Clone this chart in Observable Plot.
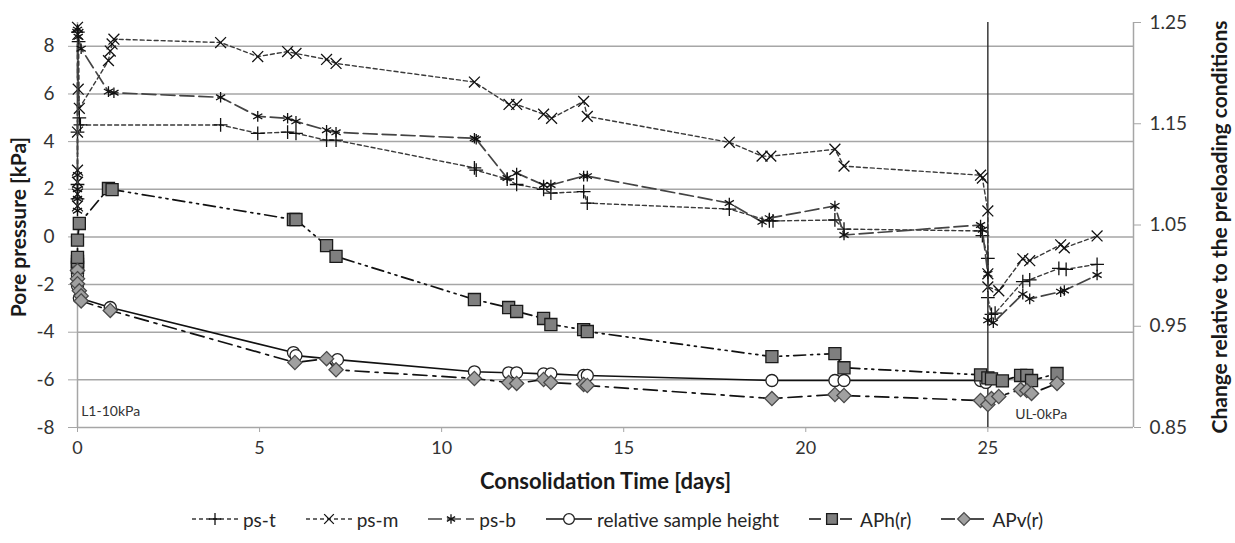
<!DOCTYPE html>
<html>
<head>
<meta charset="utf-8">
<script src="https://cdn.jsdelivr.net/npm/d3@7"></script>
<script src="https://cdn.jsdelivr.net/npm/@observablehq/plot@0.6"></script>
<style>
  html, body { margin: 0; padding: 0; background: #fff; }
  #chart { width: 1235px; height: 543px; position: relative; font-family: Lato, "Open Sans", sans-serif; color: #262626; }
  #legend { position: absolute; left: 0; top: 504px; width: 1235px; height: 30px; display: flex; justify-content: center; align-items: center; gap: 30px; font-size: 19px; padding-left: 0; }
  #legend .item { display: flex; align-items: center; gap: 5px; }
  #legend svg { display: block; }
</style>
</head>
<body>
<div id="chart"></div>
<script>
// ---------- data (time [days], value) ----------
// pore pressures [kPa] (left axis)
const psT = [[0,1.6],[0,2.2],[0,4.4],[0.01,8.6],[0.03,8.2],[0.05,5.0],[0.08,4.7],[3.93,4.7],[4.95,4.35],[5.77,4.4],[6.0,4.35],[6.84,4.06],[7.1,4.06],[10.9,2.9],[10.95,2.8],[11.8,2.43],[12.06,2.2],[12.8,2.0],[13.0,1.84],[13.9,1.9],[14.0,1.42],[17.9,1.17],[19.0,0.67],[19.1,0.67],[20.8,0.71],[21.05,0.33],[24.8,0.25],[24.85,0.05],[25.0,-0.9],[25.0,-2.55],[25.1,-3.25],[25.2,-3.2],[25.96,-1.88],[26.15,-1.8],[26.95,-1.32],[27.15,-1.36],[28.0,-1.15]];
const psM = [[0,1.3],[0,1.8],[0,2.3],[0,2.8],[0,4.4],[0,8.8],[0.01,8.5],[0.02,6.2],[0.05,5.4],[0.85,7.4],[0.9,7.8],[0.95,8.1],[1.0,8.3],[3.93,8.16],[4.95,7.57],[5.77,7.78],[6.0,7.7],[6.84,7.45],[7.1,7.28],[10.9,6.5],[11.85,5.56],[12.06,5.56],[12.8,5.15],[13.02,4.98],[13.9,5.69],[14.0,5.06],[17.9,3.97],[18.8,3.39],[19.04,3.39],[20.8,3.68],[21.05,2.97],[24.8,2.59],[24.85,2.47],[25.0,1.09],[25.0,-1.55],[25.0,-2.1],[25.3,-2.26],[25.96,-0.92],[26.15,-1.0],[27.0,-0.33],[27.1,-0.46],[28.0,0.04]];
const psB = [[0,1.1],[0,1.6],[0,2.0],[0,2.6],[0,8.7],[0.02,8.4],[0.1,7.9],[0.85,6.1],[1.0,6.05],[3.93,5.86],[4.95,5.06],[5.77,4.98],[6.0,4.85],[6.84,4.48],[7.1,4.39],[10.9,4.14],[10.95,4.1],[11.8,2.47],[12.06,2.68],[12.8,2.18],[13.0,2.18],[13.9,2.55],[14.0,2.55],[17.9,1.42],[18.8,0.63],[19.0,0.79],[20.8,1.30],[21.05,0.08],[24.8,0.5],[24.85,0.3],[25.0,-1.55],[25.0,-3.5],[25.15,-3.6],[25.96,-2.4],[26.15,-2.6],[27.0,-2.3],[27.1,-2.25],[28.0,-1.6]];
// change relative to the preloading conditions (right axis)
const relHeight = [[0,1.0],[0,0.99],[0.05,0.978],[0.9,0.9685],[5.93,0.924],[6.0,0.921],[7.14,0.917],[10.9,0.905],[11.84,0.904],[12.06,0.904],[12.8,0.903],[13.0,0.903],[13.9,0.9014],[14.0,0.9014],[19.07,0.8964],[20.8,0.8964],[21.05,0.8964],[24.8,0.8964],[24.95,0.8945]];
const aph = [[0,1.008],[0,1.011],[0,1.014],[0,1.018],[0,1.035],[0.05,1.0515],[0.85,1.086],[0.95,1.085],[5.93,1.0554],[6.0,1.0554],[6.84,1.0297],[7.1,1.019],[10.9,0.9764],[11.84,0.9685],[12.06,0.9646],[12.8,0.9577],[13.0,0.9517],[13.9,0.9467],[14.0,0.9448],[19.07,0.920],[20.8,0.923],[21.05,0.909],[24.8,0.902],[25.0,0.899],[25.1,0.898],[25.4,0.896],[25.9,0.9014],[26.07,0.9014],[26.2,0.8964],[26.9,0.9033]];
const apv = [[0,1.005],[0,0.997],[0,0.992],[0.05,0.985],[0.1,0.980],[0.1,0.975],[0.9,0.9656],[5.97,0.9142],[6.84,0.918],[7.1,0.907],[10.9,0.8984],[11.84,0.8944],[12.06,0.8935],[12.8,0.8974],[13.0,0.8944],[13.9,0.8925],[14.0,0.8915],[19.07,0.8786],[20.8,0.8826],[21.05,0.8816],[24.8,0.8767],[25.0,0.8727],[25.1,0.8786],[25.3,0.8806],[25.9,0.8875],[26.07,0.8865],[26.2,0.8836],[26.9,0.8935]];

const xTicks = [0, 5, 10, 15, 20, 25];
const yTicks = [-8, -6, -4, -2, 0, 2, 4, 6, 8];
const rightTicks = [0.85, 0.95, 1.05, 1.15, 1.25];
const annotations = [["L1-10kPa", 0.1, -7.35], ["UL-0kPa", 25.75, -7.45]];
const legendNames = ["ps-t", "ps-m", "ps-b", "relative sample height", "APh(r)", "APv(r)"];

// ---------- dual-axis mapping ----------
const leftDomain = [-8, 9];
const rightDomain = [0.85, 1.25];
const toL = d3.scaleLinear().domain(rightDomain).range(leftDomain);

const font = 'Lato, "Open Sans", sans-serif';

const series = [
  {name: legendNames[0], data: psT, right: false, dash: "4,3", sw: 1.4, stroke: "#3a3a3a", symbol: "plus", r: 4.5, fill: "none", mstroke: "#111"},
  {name: legendNames[1], data: psM, right: false, dash: "4,3", sw: 1.4, stroke: "#3a3a3a", symbol: "times", r: 5, fill: "none", mstroke: "#111"},
  {name: legendNames[2], data: psB, right: false, dash: "14,5", sw: 1.7, stroke: "#444", symbol: "asterisk", r: 5, fill: "none", mstroke: "#111"},
  {name: legendNames[3], data: relHeight, right: true, dash: null, sw: 1.6, stroke: "#111", symbol: "circle", r: 6, fill: "#fff", mstroke: "#222"},
  {name: legendNames[4], data: aph, right: true, dash: "12,5,2,5,2,5", sw: 1.7, stroke: "#111", symbol: "square", r: 6.8, fill: "#7f7f7f", mstroke: "#1a1a1a"},
  {name: legendNames[5], data: apv, right: true, dash: "14,6,3,6", sw: 1.7, stroke: "#111", symbol: "diamond2", r: 6.4, fill: "#a0a0a0", mstroke: "#4a4a4a"}
];

const marks = [
  Plot.ruleY(yTicks, {stroke: "#a6a6a6", strokeWidth: 1.5}),
  Plot.ruleX([0], {stroke: "#a6a6a6", strokeWidth: 1.5}),
  Plot.ruleX([29], {stroke: "#a6a6a6", strokeWidth: 1.5}),
  Plot.axisX({ticks: xTicks, tickSize: 5, tickPadding: 9, fontSize: 18, label: null, stroke: "#a6a6a6", fill: "#333"}),
  Plot.axisY({ticks: yTicks, tickSize: 9, tickPadding: 14, fontSize: 19, label: null, stroke: "#a6a6a6", fill: "#333", tickFormat: d => d}),
  Plot.axisY({anchor: "right", ticks: rightTicks.map(toL), tickSize: 7, tickPadding: 9, fontSize: 19, label: null, stroke: "#a6a6a6", fill: "#333", tickFormat: d => toL.invert(d).toFixed(2)}),
  Plot.ruleX([25], {stroke: "#2b2b2b", strokeWidth: 1.4})
];

for (const s of series) {
  const yAcc = s.right ? (d => toL(d[1])) : (d => d[1]);
  marks.push(Plot.line(s.data, {x: d => d[0], y: yAcc, stroke: s.stroke, strokeWidth: s.sw, strokeDasharray: s.dash, curve: "linear"}));
  marks.push(Plot.dot(s.data, {x: d => d[0], y: yAcc, symbol: () => s.symbol, r: s.r, fill: s.fill, stroke: s.mstroke, strokeWidth: 1.3}));
}

marks.push(
  Plot.text(annotations, {x: d => d[1], y: d => d[2], text: d => d[0], textAnchor: "start", fontSize: 14, fill: "#333"}),
  Plot.text(["Consolidation Time [days]"], {frameAnchor: "bottom", textAnchor: "middle", dy: 61, text: d => d, fontSize: 22, fontWeight: "bold", fill: "#1a1a1a"}),
  Plot.text(["Pore pressure [kPa]"], {frameAnchor: "left", textAnchor: "middle", dx: -58, dy: 2, rotate: -90, text: d => d, fontSize: 21, fontWeight: "bold", fill: "#1a1a1a"}),
  Plot.text(["Change relative to the preloading conditions"], {frameAnchor: "right", textAnchor: "middle", dx: 87, dy: 2, rotate: -90, text: d => d, fontSize: 21, fontWeight: "bold", fill: "#1a1a1a"})
);

const chart = Plot.plot({
  width: 1235,
  height: 497,
  marginLeft: 77,
  marginRight: 102,
  marginTop: 22,
  marginBottom: 70,
  style: {fontFamily: font, fontSize: "18px", color: "#262626", background: "#fff"},
  x: {domain: [0, 29]},
  y: {domain: leftDomain},
  marks
});

const root = document.getElementById("chart");
root.appendChild(chart);

// ---------- legend ----------
const legend = document.createElement("div");
legend.id = "legend";
const symPath = name => {
  const map = {plus: d3.symbolPlus, times: d3.symbolTimes, asterisk: d3.symbolAsterisk, circle: d3.symbolCircle, square: d3.symbolSquare, diamond2: d3.symbolDiamond2};
  return map[name];
};
for (const s of series) {
  const item = document.createElement("div");
  item.className = "item";
  const w = 46, h = 20;
  const svg = d3.create("svg").attr("width", w).attr("height", h);
  svg.append("line").attr("x1", 0).attr("x2", w).attr("y1", h / 2).attr("y2", h / 2)
    .attr("stroke", s.stroke).attr("stroke-width", s.sw).attr("stroke-dasharray", s.dash);
  svg.append("path").attr("transform", `translate(${w / 2},${h / 2})`)
    .attr("d", d3.symbol(symPath(s.symbol), Math.PI * s.r * s.r * 0.8)())
    .attr("fill", s.fill).attr("stroke", s.mstroke).attr("stroke-width", 1.3);
  item.appendChild(svg.node());
  const label = document.createElement("span");
  label.textContent = s.name;
  item.appendChild(label);
  legend.appendChild(item);
}
root.appendChild(legend);
</script>
</body>
</html>
